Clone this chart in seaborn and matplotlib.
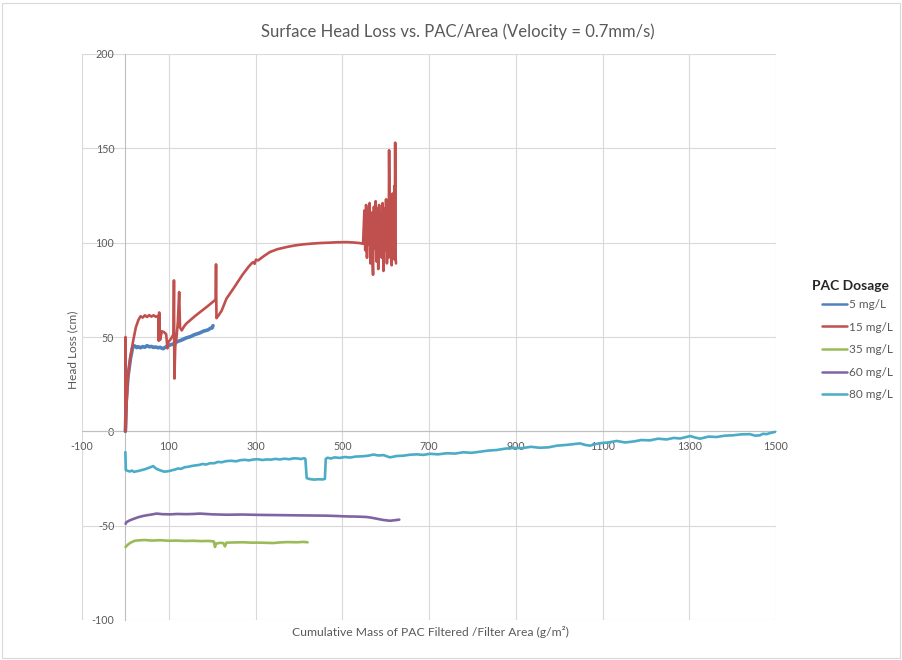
import matplotlib
matplotlib.use("Agg")
import matplotlib.pyplot as plt
import pandas as pd
import seaborn as sns
from matplotlib.patches import Rectangle

sns.set_theme(style="white")
plt.rcParams["font.family"] = ["Lato", "DejaVu Sans"]
plt.rcParams["axes.unicode_minus"] = False

# Legend entries and their Excel-style colours
dosage_labels = ["5 mg/L", "15 mg/L", "35 mg/L", "60 mg/L", "80 mg/L"]
dosage_colors = ["#4F81BD", "#C0504D", "#9BBB59", "#8064A2", "#4BACC6"]

# (cumulative PAC mass per area [g/m2], head loss [cm]) for each dosage
loss_5mg = [
    (0, 0), (2, 16), (6, 29), (12, 39), (17, 44.7), (21, 45.3), (26, 44.4),
    (30, 44.8), (35, 44.3), (40, 44.9), (45, 44.6), (50, 45.4), (55, 44.8),
    (60, 45.0), (65, 44.5), (70, 44.7), (75, 44.3), (80, 44.5), (87, 43.8),
    (95, 45.0), (100, 45.5), (110, 46.3), (120, 47.6), (130, 48.4),
    (140, 49.5), (150, 50.2), (160, 51.3), (170, 52.0), (180, 53.1),
    (190, 53.7), (196, 54.6), (200, 54.8), (202, 56.0),
]

loss_15mg = [
    (0, 0), (0.3, 50), (0.8, 1), (3, 16), (6, 29), (12, 40), (18, 48),
    (24, 55), (30, 59), (35, 61), (40, 60.3), (45, 61.5), (50, 60.6),
    (55, 61.6), (60, 60.8), (65, 61.5), (70, 60.7), (76, 61.3), (77, 48),
    (78, 63), (80, 48.5), (84, 53), (89, 52.6), (94, 51.5), (97, 44),
    (99, 47.3), (105, 49), (110, 51), (111, 52), (112, 80), (113, 28),
    (115, 45), (118, 50), (121, 58), (124, 73.8), (126, 55), (130, 53.5),
    (135, 55.5), (140, 57), (150, 59), (160, 61), (170, 62.8), (180, 64.6),
    (190, 66.4), (200, 68.3), (206, 69.4), (208, 70), (209, 88.5), (210, 60),
    (215, 61.5), (222, 64), (233, 70.3), (250, 76), (270, 83), (285, 87.5),
    (291, 89), (295, 89.7), (298, 88.8), (301, 91), (306, 90.6), (320, 93),
    (333, 95), (350, 96.5), (372, 97.7), (390, 98.5), (410, 99.1),
    (430, 99.5), (448, 99.8), (470, 100), (487, 100.2), (510, 100.3),
    (525, 100.1), (540, 99.8), (548, 99.4),
    (551, 117), (553, 96), (555, 120), (557, 92), (559, 118), (561, 99),
    (563, 121), (565, 89), (567, 116), (569, 94), (571, 83), (573, 119),
    (575, 97), (577, 122), (579, 90), (581, 118), (583, 86), (585, 120),
    (587, 101), (589, 116), (591, 92), (593, 121), (595, 85), (597, 118),
    (599, 96), (601, 123), (603, 89), (605, 117), (607, 92), (608, 149),
    (610, 93), (612, 120), (614, 88), (616, 126), (618, 95), (620, 130),
    (621, 91), (622, 153), (623, 92), (624, 89),
]

loss_35mg = [
    (0.5, -61.3), (7, -59.8), (14.5, -58.7), (22, -58.0), (30, -57.8),
    (45, -57.6), (60, -57.9), (80, -57.7), (100, -58.0), (118, -57.9),
    (138, -58.1), (156, -58.0), (175, -58.2), (190, -58.1), (202.6, -58.3),
    (204, -58.4), (206.6, -61.3), (209, -59.5), (218, -59.1), (225.7, -59.2),
    (229.6, -61.0), (233, -59.0), (250, -58.9), (271.8, -58.8), (290, -59.0),
    (310, -59.0), (325, -59.1), (341, -59.2), (356, -58.9), (372, -58.7),
    (395, -58.8), (410, -58.6), (420, -58.8),
]

loss_60mg = [
    (0.7, -49.0), (2, -48.2), (10, -47.2), (20, -46.3), (30, -45.5),
    (40, -44.9), (49, -44.5), (60, -44.1), (72, -43.6), (85, -43.9),
    (103, -44.0), (120, -43.8), (140, -43.9), (156.6, -43.8), (172, -43.6),
    (200, -44.0), (233.5, -44.2), (270, -44.1), (310, -44.3), (350, -44.4),
    (387, -44.5), (425, -44.6), (464, -44.7), (490, -44.9), (510, -45.1),
    (535, -45.2), (556, -45.4), (568, -45.8), (579, -46.3), (595, -47.0),
    (610, -47.4), (622, -47.1), (631.5, -46.8),
]

loss_80mg = [
    (0, -11.0), (1, -20.5), (5, -20.9), (10, -21.3), (15, -20.8), (20, -21.5),
    (25, -21.2), (30, -21.0), (37, -20.6), (45, -20.1), (52, -19.5),
    (58, -19.0), (64, -18.4), (68, -19.2), (72, -19.9), (78, -20.5),
    (83, -20.9), (90, -21.4), (96, -21.2), (102, -21.0), (108, -20.6),
    (115, -20.2), (121, -19.7), (128, -19.9), (137, -19.0), (145, -18.8),
    (152, -18.4), (160, -18.1), (170, -17.8), (178, -17.3), (186, -17.6),
    (195, -16.9), (205, -16.9), (213, -16.2), (222, -16.4), (232, -15.8),
    (244, -15.6), (255, -15.9), (265, -15.3), (275, -15.1), (285, -15.4),
    (296, -14.9), (306, -14.8), (316, -15.2), (326, -14.9), (336, -15.0),
    (346, -14.6), (356, -14.9), (367, -14.5), (378, -14.8), (388, -14.3),
    (398, -14.4), (405, -14.7), (412, -14.2), (415, -14.6), (418, -24.8),
    (425, -25.3), (435, -25.6), (445, -25.4), (455, -25.5), (460, -25.2),
    (462, -14.6), (466, -14.0), (474, -14.4), (482, -13.8), (494, -14.1),
    (506, -13.6), (518, -13.9), (530, -13.4), (548, -13.2), (560, -12.9),
    (572, -12.3), (583, -12.8), (595, -12.6), (610, -13.8), (625, -13.1),
    (641, -12.9), (656, -12.4), (672, -12.2), (687, -12.5), (702, -11.9),
    (721, -12.2), (741, -11.6), (760, -11.8), (779, -11.1), (798, -11.4),
    (818, -10.8), (837, -10.2), (856, -9.9), (875, -9.2), (895, -8.8),
    (915, -8.9), (935, -8.2), (955, -8.7), (975, -8.5), (995, -7.6),
    (1017, -7.2), (1032, -6.8), (1048, -6.4), (1060, -7.2), (1071, -7.6),
    (1083, -6.8), (1094, -6.3), (1113, -5.9), (1133, -5.1), (1152, -5.9),
    (1171, -5.4), (1190, -4.6), (1209, -4.8), (1228, -3.9), (1248, -4.3),
    (1264, -3.5), (1279, -3.8), (1290, -3.2), (1302, -2.5), (1314, -3.3),
    (1325, -3.9), (1344, -2.8), (1363, -3.0), (1382, -2.3), (1401, -2.1),
    (1420, -1.6), (1440, -1.5), (1452, -2.3), (1463, -2.1), (1470, -1.3),
    (1478, -1.5), (1488, -0.8), (1498, -0.3),
]

x_ticks = list(range(-100, 1501, 200))
y_ticks = list(range(-100, 201, 50))

series = [loss_5mg, loss_15mg, loss_35mg, loss_60mg, loss_80mg]
line_widths = [2.6, 1.9, 1.9, 1.9, 1.9]

frames = []
for label, pts in zip(dosage_labels, series):
    df = pd.DataFrame(pts, columns=["mass", "loss"])
    df["dosage"] = label
    frames.append(df)
data = pd.concat(frames, ignore_index=True)

W, H = 902, 660
fig = plt.figure(figsize=(W / 100, H / 100), dpi=100)
ax = fig.add_axes([82 / W, 1 - 620 / H, (776 - 82) / W, (620 - 54) / H])

for label, color, lw in zip(dosage_labels, dosage_colors, line_widths):
    sns.lineplot(
        data=data[data["dosage"] == label], x="mass", y="loss",
        color=color, linewidth=lw, sort=False, estimator=None,
        ax=ax, label=label, zorder=3,
    )

ax.set_xlim(-100, 1500)
ax.set_ylim(-100, 200)
ax.set_xticks(x_ticks)
ax.set_yticks(y_ticks)
ax.set_xlabel("")
ax.set_ylabel("")

grid_color = "#d9d9d9"
ax.grid(True, color=grid_color, linewidth=0.8, zorder=0)
ax.set_axisbelow(True)
for side in ("top", "right"):
    ax.spines[side].set_visible(False)
ax.spines["left"].set_position(("data", 0))
ax.spines["bottom"].set_position(("data", 0))
for side in ("left", "bottom"):
    ax.spines[side].set_color("#bfbfbf")
    ax.spines[side].set_linewidth(0.8)
ax.tick_params(axis="both", length=0, labelsize=7.7, colors="#595959")
ax.tick_params(axis="y", pad=8)
ax.tick_params(axis="x", pad=7)

text_color = "#595959"
fig.text(458 / W, 1 - 32 / H,
         "Surface Head Loss vs. PAC/Area (Velocity = 0.7mm/s)",
         ha="center", va="center", fontsize=12, color=text_color)
fig.text(430 / W, 1 - 632 / H,
         "Cumulative Mass of PAC Filtered /Filter Area (g/m²)",
         ha="center", va="center", fontsize=8.7, color=text_color)
fig.text(73 / W, 1 - 350 / H, "Head Loss (cm)", rotation=90,
         ha="center", va="center", fontsize=8.5, color=text_color)

# Legend: bold heading placed on its own, entries listed below it
fig.text(850 / W, 1 - 286 / H, "PAC Dosage", ha="center", va="center",
         fontsize=10, fontweight="bold", color="#262626")
handles, labels = ax.get_legend_handles_labels()
ax.get_legend().remove()
leg = fig.legend(
    handles, labels, loc="upper left",
    bbox_to_anchor=(822 / W, 1 - 299 / H), frameon=False,
    fontsize=8.5, handlelength=2.1, handletextpad=0.15,
    labelspacing=0.98, borderpad=0, borderaxespad=0,
)
for t in leg.get_texts():
    t.set_color(text_color)
for h in leg.legend_handles:
    h.set_linewidth(1.8)

fig.patches.append(Rectangle((2 / W, 2 / H), 1 - 4 / W, 1 - 5 / H,
                             transform=fig.transFigure, fill=False,
                             edgecolor="#d9d9d9", linewidth=0.8))

fig.savefig("out.png", dpi=100)
